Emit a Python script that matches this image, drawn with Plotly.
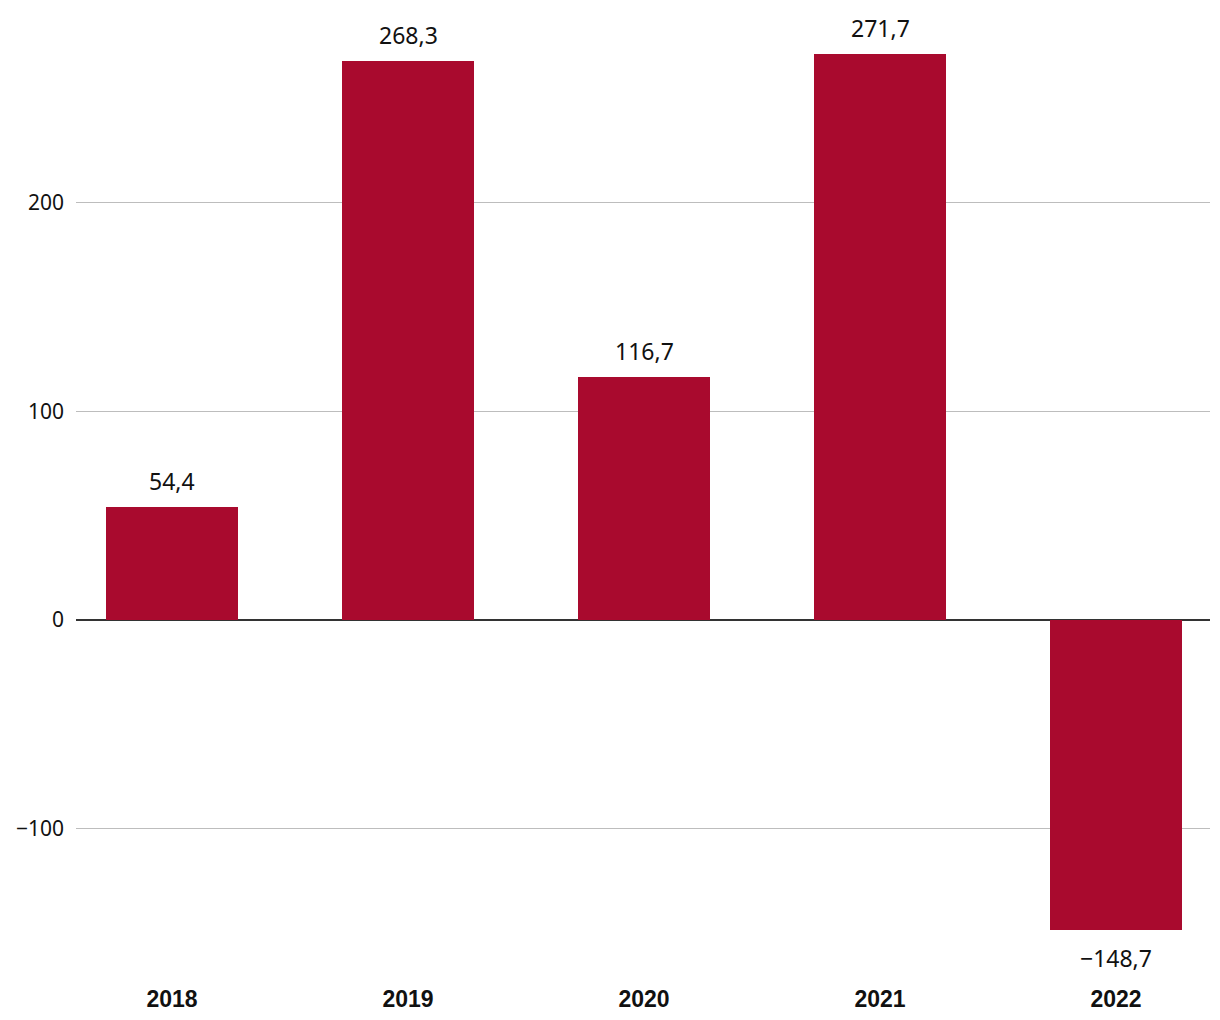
import plotly.graph_objects as go

years = ["2018", "2019", "2020", "2021", "2022"]
values = [54.4, 268.3, 116.7, 271.7, -148.7]
y_ticks = [-100, 0, 100, 200]

color = "#A90A2E"

fig = go.Figure()
fig.add_trace(go.Bar(
    x=list(range(len(years))), y=values,
    marker=dict(color=color, line=dict(width=0)),
    width=0.56, hoverinfo="skip",
))

for i, v in enumerate(values):
    fig.add_annotation(
        x=i, y=v, text=f"{v:.1f}".replace(".", ",").replace("-", "\u2212"),
        showarrow=False, yshift=26 if v >= 0 else -28,
        font=dict(family="Noto Sans", size=23, color="#111"),
    )

fig.update_layout(
    width=1220, height=1020,
    margin=dict(l=68, r=18, t=22, b=50),
    plot_bgcolor="white", paper_bgcolor="white",
    showlegend=False, bargap=0,
    separators=", ",
    xaxis=dict(
        tickmode="array", tickvals=list(range(len(years))), ticktext=years,
        range=[-0.407, 4.398], showgrid=False, zeroline=False, showline=False,
        tickfont=dict(family="Liberation Sans", size=23, color="#111", weight="bold"),
        ticklabelstandoff=5, automargin=False,
    ),
    yaxis=dict(
        range=[-171.7, 282.97], tickvals=y_ticks,
        ticktext=[str(t).replace("-", "\u2212") for t in y_ticks],
        showgrid=True, gridcolor="#bdbdbd", gridwidth=1,
        zeroline=True, zerolinecolor="#333", zerolinewidth=1.5,
        showline=False, automargin=False,
        tickfont=dict(family="Noto Sans", size=21, color="#111"),
        ticklabelstandoff=11,
    ),
)

fig.write_html("out.html")
